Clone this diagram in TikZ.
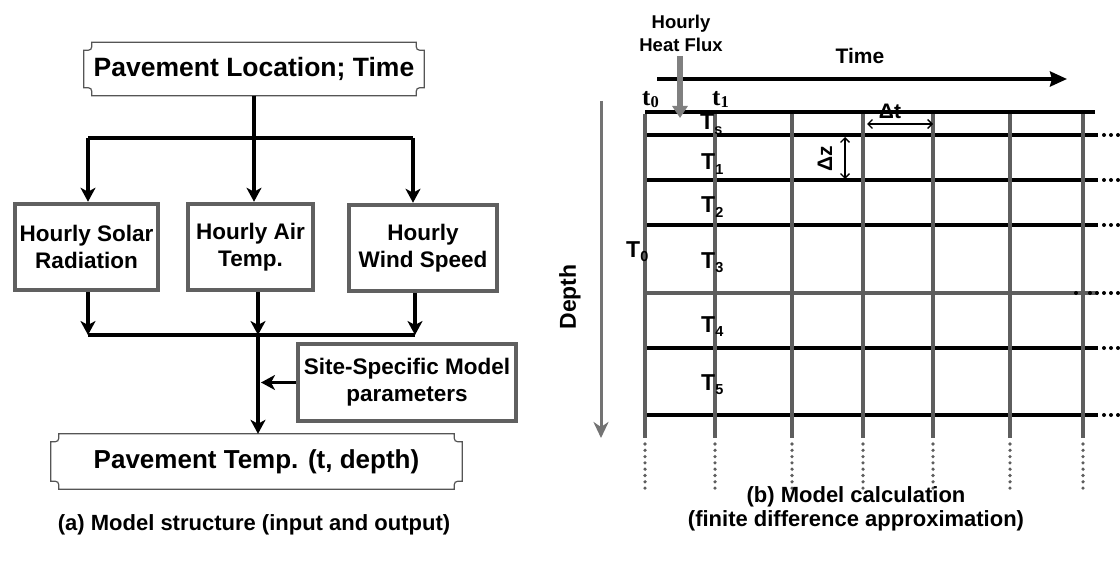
\documentclass[tikz,border=0pt]{standalone}
\usepackage{fontspec}
\setmainfont{Liberation Sans}
\newfontfamily\timesfont{Liberation Serif}
\usetikzlibrary{arrows.meta}

\definecolor{linegray}{HTML}{5E5E5E}
\definecolor{framegray}{HTML}{606060}
\definecolor{plaquegray}{HTML}{555555}
\definecolor{fluxgray}{HTML}{808080}

% bold sans at a given size
\newcommand\bsf[1]{\fontsize{#1}{#1}\selectfont\bfseries}
% lowered subscript
\newcommand\lowsub[1]{\raisebox{-4.5pt}{\fontsize{14.5}{14.5}\selectfont #1}}
% serif time index t_k
\newcommand\tidx[1]{{\timesfont\bfseries\fontsize{25}{25}\selectfont t\raisebox{-2pt}{\fontsize{16.5}{16.5}\selectfont #1}}}

% frame with concave (plaque) corners around a node
\newcommand\plaqueframe[2]{%
  \draw[plaquegray, line width=1.2pt]
    ([xshift=#2]#1.north west) -- ([xshift=-#2]#1.north east)
    .. controls ([xshift=-#2,yshift=-#2]#1.north east) .. ([yshift=-#2]#1.north east)
    -- ([yshift=#2]#1.south east)
    .. controls ([xshift=-#2,yshift=#2]#1.south east) .. ([xshift=-#2]#1.south east)
    -- ([xshift=#2]#1.south west)
    .. controls ([xshift=#2,yshift=#2]#1.south west) .. ([yshift=#2]#1.south west)
    -- ([yshift=-#2]#1.north west)
    .. controls ([xshift=#2,yshift=-#2]#1.north west) .. cycle;}

\begin{document}
\begin{tikzpicture}[x=1pt, y=-1pt,
  flow/.style={line width=3.4pt, -{Stealth[length=14pt, width=15pt, inset=4pt]}},
  link/.style={line width=3.4pt},
  srcbox/.style={draw=framegray, line width=4.5pt, fill=white, align=center,
    inner sep=0pt, font=\fontsize{22.5}{27}\selectfont\bfseries},
  plaquenode/.style={inner sep=0pt, align=center},
  gridv/.style={linegray, line width=3.8pt},
  gridh/.style={black, line width=3.8pt},
  tlabel/.style={inner sep=0pt, anchor=base west, font=\bsf{23}},
  caption/.style={inner sep=0pt, align=center, font=\fontsize{22}{24}\selectfont\bfseries},
  span/.style={line width=1.3pt, {Straight Barb[length=4.5pt, width=9pt]}-{Straight Barb[length=4.5pt, width=9pt]}}
]
\useasboundingbox (0,0) rectangle (1120,567);

% ---------------- (a) model structure ----------------
\node[plaquenode, minimum width=340pt, minimum height=53pt, font=\bsf{26.5}]
  (loc) at (254,69) {Pavement Location; Time};
\plaqueframe{loc}{8pt}

\node[srcbox, minimum width=143pt, minimum height=86pt] (solar) at (86.5,247) {Hourly Solar\\Radiation};
\node[srcbox, minimum width=125pt, minimum height=86pt] (air)   at (250.5,247) {Hourly Air\\Temp.};
\node[srcbox, minimum width=148pt, minimum height=86pt] (wind)  at (423,248) {Hourly\\Wind Speed};

\node[srcbox, minimum width=218pt, minimum height=77pt] (site) at (407,382.5) {Site-Specific Model\\parameters};

\node[plaquenode, minimum width=411pt, minimum height=55pt, font=\bsf{26}]
  (temp) at (256.5,461.5) {Pavement Temp. (t, depth)};
\plaqueframe{temp}{8pt}

% distribution to the three weather inputs
\coordinate (split) at (254,138);
\coordinate (sL) at (88,138);
\coordinate (sR) at (413,138);
\draw[link] (loc.south) -- (split);
\draw[link] (sL) -- (sR);
\draw[flow] (sL) -- (sL |- solar.north);
\draw[flow] (split) -- (split |- air.north);
\draw[flow] (sR) -- (sR |- wind.north);

% collection towards the output
\coordinate (mL) at (88,335);
\coordinate (mC) at (258,335);
\coordinate (mR) at (415,335);
\draw[flow] (mL |- solar.south) -- (mL);
\draw[flow] (mC |- air.south) -- (mC);
\draw[flow] (mR |- wind.south) -- (mR);
\draw[link] (mL) -- (mR);
\draw[flow] (mC) -- (mC |- temp.north);
\draw[flow, shorten >=3pt] (site.west) -- (site.west -| mC);

\node[caption] (capa) at (254,525) {(a) Model structure (input and output)};

% ---------------- (b) model calculation ----------------
% depth layers, continued by dots to the right
\foreach \y in {135,180,225,348,415}{
  \draw[gridh] (645,\y) -- (1098,\y);
  \foreach \d in {1104,1111,1118} \fill (\d,\y) circle[radius=2pt];
}
\draw[gridh] (645,112) -- (1095,112);
\draw[gridv] (645,293) -- (1098,293);
\foreach \d in {1076,1083,...,1118} \fill (\d,293) circle[radius=2pt];

% time steps, continued by dots downwards
\foreach \x in {645,715,792,863,933,1010,1083}{
  \draw[gridv] (\x,114) -- (\x,438);
  \foreach \d in {444,450.3,...,489} \fill[linegray] (\x,\d) circle[radius=1.8pt];
}

% axes
\coordinate (timeA) at (657,79);
\coordinate (timeB) at (1067,79);
\draw[line width=3.6pt, -{Stealth[length=17pt, width=15pt, inset=2pt]}] (timeA) -- (timeB);
\node[inner sep=0pt, font=\bsf{21}] (timelbl) at (860,56) {Time};

\coordinate (depthA) at (601,101);
\coordinate (depthB) at (601,438);
\draw[fluxgray!90!black, line width=3pt, -{Stealth[length=16pt, width=15pt, inset=5pt]}] (depthA) -- (depthB);
\node[inner sep=0pt, rotate=90, font=\bsf{23}] (depthlbl) at (570,297) {Depth};

% surface heat flux
\node[inner sep=0pt, align=center, font=\fontsize{18.5}{23}\selectfont\bfseries] (flux) at (681,33) {Hourly\\Heat Flux};
\coordinate (fluxA) at (680,56);
\coordinate (fluxB) at (680,118);
\draw[fluxgray, line width=6.5pt, -{Triangle[length=12pt, width=15pt]}] (fluxA) -- (fluxB);

% time indices
\node[inner sep=0pt, anchor=base west] (t0) at (642,106) {\tidx{0}};
\node[inner sep=0pt, anchor=base west] (t1) at (712,106) {\tidx{1}};

% node temperatures
\node[tlabel] (Ts) at (700,130) {T\lowsub{s}};
\node[tlabel] (T1) at (701,170) {T\lowsub{1}};
\node[tlabel] (T2) at (701,213) {T\lowsub{2}};
\node[tlabel] (T3) at (701,268) {T\lowsub{3}};
\node[tlabel] (T4) at (701,332) {T\lowsub{4}};
\node[tlabel] (T5) at (701,390) {T\lowsub{5}};
\node[tlabel] (T0) at (626,257) {T\lowsub{0}};

% step sizes
\coordinate (dzA) at (845,137);
\coordinate (dzB) at (845,179);
\draw[span] (dzA) -- (dzB);
\node[inner sep=0pt, rotate=90, font=\bsf{21}] (dz) at (825,159) {Δz};
\coordinate (dtA) at (867,124);
\coordinate (dtB) at (933,124);
\draw[span] (dtA) -- (dtB);
\node[inner sep=0pt, font=\bsf{21}] (dt) at (890,111) {Δt};

\node[caption] (capb) at (856,509) {(b) Model calculation\\(finite difference approximation)};
\end{tikzpicture}
\end{document}
